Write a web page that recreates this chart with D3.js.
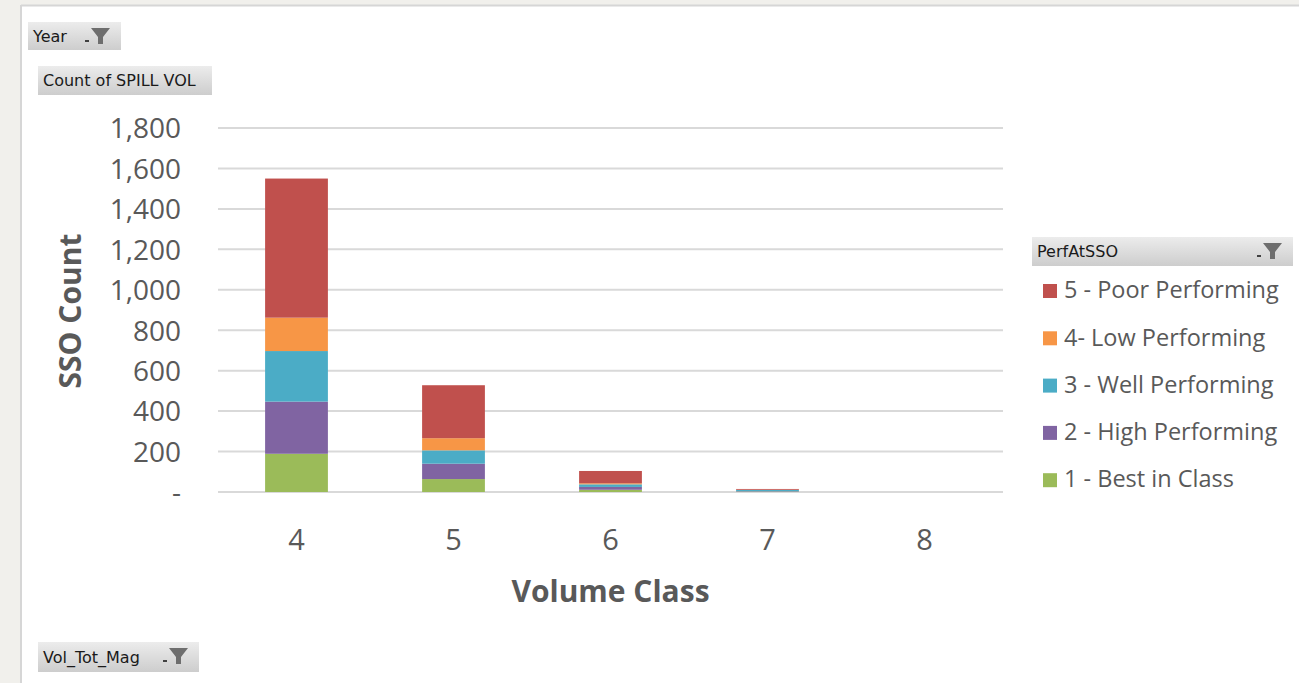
<!DOCTYPE html>
<html>
<head>
<meta charset="utf-8">
<script src="https://cdn.jsdelivr.net/npm/d3@7"></script>
<style>
  html, body { margin: 0; padding: 0; background: #f1f0ec; }
  svg { display: block; }
</style>
</head>
<body>
<svg id="chart" width="1299" height="683"></svg>
<script>
// Volume classes on the x axis
const categories = ["4", "5", "6", "7", "8"];

// Performance groups, bottom of the stack first
const seriesNames = [
  "1 - Best in Class",
  "2 - High Performing",
  "3 - Well Performing",
  "4- Low Performing",
  "5 - Poor Performing"
];
const seriesColors = ["#9bbb59", "#8064a2", "#4bacc6", "#f79646", "#c0504d"];

// SSO counts per volume class, one array per performance group
const bestInClass     = [189, 64, 11, 2, 0];
const highPerforming  = [258, 76, 14, 2, 0];
const wellPerforming  = [250, 66, 13, 6, 0];
const lowPerforming   = [165, 60, 5, 1, 0];
const poorPerforming  = [688, 262, 61, 4, 0];

const yTicks = [0, 200, 400, 600, 800, 1000, 1200, 1400, 1600, 1800];

const seriesValues = [bestInClass, highPerforming, wellPerforming, lowPerforming, poorPerforming];
const rows = categories.map((c, i) => {
  const r = { cat: c };
  seriesNames.forEach((s, k) => { r[s] = seriesValues[k][i]; });
  return r;
});

const svg = d3.select("#chart");
const FONT = "'Open Sans', 'Noto Sans', sans-serif";
const UI_FONT = "'DejaVu Sans', 'Noto Sans', sans-serif";

// Sheet frame: grey margin with a thin border around the white chart area
svg.append("rect").attr("x", 21).attr("y", 5).attr("width", 1299 - 21).attr("height", 683 - 5)
  .attr("fill", "#ffffff");
svg.append("line").attr("x1", 21).attr("x2", 1299).attr("y1", 5.5).attr("y2", 5.5)
  .attr("stroke", "#d6d6d6").attr("stroke-width", 2);
svg.append("line").attr("x1", 21).attr("x2", 21).attr("y1", 5).attr("y2", 683)
  .attr("stroke", "#d6d6d6").attr("stroke-width", 2);

// Gradient used by the pivot field buttons
const defs = svg.append("defs");
const grad = defs.append("linearGradient").attr("id", "btnGrad")
  .attr("x1", 0).attr("y1", 0).attr("x2", 0).attr("y2", 1);
grad.append("stop").attr("offset", "0%").attr("stop-color", "#ececec");
grad.append("stop").attr("offset", "100%").attr("stop-color", "#cdcdcd");

function funnel(g, x, y) {
  // small dropdown arrow + filter funnel icon
  g.append("rect").attr("x", x).attr("y", y + 12).attr("width", 4).attr("height", 2).attr("fill", "#404040");
  g.append("path")
    .attr("d", `M${x + 6},${y} L${x + 25},${y} L${x + 18},${y + 9} L${x + 18},${y + 16} L${x + 13},${y + 16} L${x + 13},${y + 9} Z`)
    .attr("fill", "#6e6e6e");
}

function fieldButton(x, y, w, h, label, withIcon) {
  const g = svg.append("g");
  g.append("rect").attr("x", x).attr("y", y).attr("width", w).attr("height", h).attr("fill", "url(#btnGrad)");
  g.append("text").attr("x", x + 5).attr("y", y + h / 2 + 1)
    .attr("dominant-baseline", "middle")
    .attr("font-family", UI_FONT).attr("font-size", 16).attr("fill", "#1a1a1a")
    .text(label);
  if (withIcon) funnel(g, x + w - 36, y + 6);
  return g;
}

fieldButton(28, 22, 93, 28, "Year", true);
fieldButton(38, 66, 174, 29, "Count of SPILL VOL", false);
fieldButton(38, 642, 161, 30, "Vol_Tot_Mag", true);

// Plot geometry
const plot = { left: 218, right: 1003, top: 128, bottom: 492 };

const x = d3.scaleBand().domain(categories).range([plot.left, plot.right]).paddingInner(0.6).paddingOuter(0.3);
const y = d3.scaleLinear().domain([0, 1800]).range([plot.bottom, plot.top]);

// Gridlines
svg.append("g").selectAll("line").data(yTicks).join("line")
  .attr("x1", plot.left).attr("x2", plot.right)
  .attr("y1", d => y(d)).attr("y2", d => y(d))
  .attr("stroke", "#d9d9d9").attr("stroke-width", 2);

// Y axis labels
const fmt = d3.format(",");
const yAxis = d3.axisLeft(y).tickValues(yTicks).tickSize(0).tickPadding(0)
  .tickFormat(d => d === 0 ? "-" : fmt(d));
const yg = svg.append("g").attr("transform", `translate(${181},0)`).call(yAxis);
yg.select(".domain").remove();
yg.selectAll("text").attr("font-family", FONT).attr("font-size", 28).attr("fill", "#595959")
  .attr("dy", "0.35em");

// X axis labels
const xAxis = d3.axisBottom(x).tickSize(0).tickPadding(0);
const xg = svg.append("g").attr("transform", `translate(0,${540})`).call(xAxis);
xg.select(".domain").remove();
xg.selectAll("text").attr("font-family", FONT).attr("font-size", 29).attr("fill", "#595959")
  .attr("dy", "0.35em");

// Stacked bars
const stack = d3.stack().keys(seriesNames);
const layers = stack(rows);
const color = d3.scaleOrdinal().domain(seriesNames).range(seriesColors);

svg.append("g").selectAll("g").data(layers).join("g")
  .attr("fill", d => color(d.key))
  .selectAll("rect").data(d => d).join("rect")
  .attr("x", d => x(d.data.cat))
  .attr("width", x.bandwidth())
  .attr("y", d => y(d[1]))
  .attr("height", d => Math.max(0, y(d[0]) - y(d[1])));

// Axis titles
svg.append("text").attr("x", x("6") + x.bandwidth() / 2).attr("y", 594)
  .attr("text-anchor", "middle").attr("dominant-baseline", "middle")
  .attr("font-family", FONT).attr("font-weight", 700).attr("font-size", 30).attr("fill", "#595959")
  .text("Volume Class");

svg.append("text").attr("transform", `translate(73,${311}) rotate(-90)`)
  .attr("text-anchor", "middle").attr("dominant-baseline", "middle")
  .attr("font-family", FONT).attr("font-weight", 700).attr("font-size", 30).attr("fill", "#595959")
  .text("SSO Count");

// Legend
fieldButton(1032, 237, 261, 29, "PerfAtSSO", true);
const legendItems = seriesNames.slice().reverse();
const lg = svg.append("g").selectAll("g").data(legendItems).join("g")
  .attr("transform", (d, i) => `translate(1043,${291 + i * 47.3})`);
lg.append("rect").attr("x", 0).attr("y", -7).attr("width", 14).attr("height", 14)
  .attr("fill", d => color(d));
lg.append("text").attr("x", 21).attr("y", 1).attr("dominant-baseline", "middle")
  .attr("font-family", FONT).attr("font-size", 23.5).attr("fill", "#595959")
  .text(d => d);
</script>
</body>
</html>
